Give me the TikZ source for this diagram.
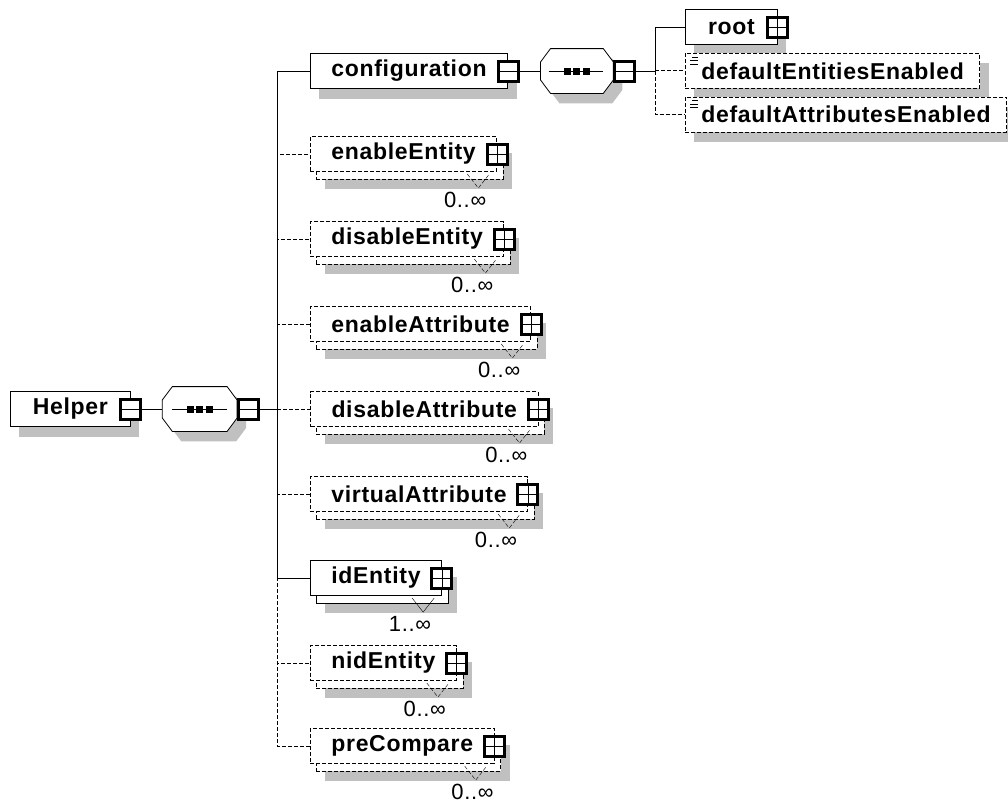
\documentclass[tikz,border=0pt]{standalone}
\usepackage{fontspec}
\setmainfont{Liberation Sans}[LetterSpace=3]
\usetikzlibrary{positioning, calc, fit, shadows, backgrounds}
\definecolor{shadowgray}{HTML}{C0C0C0}

% octagon round an empty node (sequence compositor)
\newcommand{\octagon}[1]{([xshift=10pt]#1.north west) -- ([xshift=-10pt]#1.north east) -- ([yshift=9pt]#1.east) -- ([yshift=-9pt]#1.east) -- ([xshift=-10pt]#1.south east) -- ([xshift=10pt]#1.south west) -- ([yshift=-9pt]#1.west) -- ([yshift=9pt]#1.west) -- cycle}

\begin{document}
\begin{tikzpicture}[x=1pt, y=-1pt, line width=0.8pt,
    el/.style={draw, fill=white, minimum height=35pt, inner xsep=21pt, inner ysep=0pt, font=\bfseries\fontsize{23}{27}\selectfont},
    attr/.style={el, opt, shd, inner xsep=16pt},
    back/.style={draw, fill=white, inner sep=0pt},
    opt/.style={dash pattern=on 4pt off 2pt},
    shd/.style={drop shadow={shadow xshift=9pt, shadow yshift=-10pt, opacity=1, fill=shadowgray}},
    sq/.style={draw, line width=3pt, fill=white, minimum size=20pt, inner sep=0pt},
    plusbox/.style={sq, path picture={\draw[line width=0.8pt] (path picture bounding box.north) -- (path picture bounding box.south) (path picture bounding box.west) -- (path picture bounding box.east);}},
    minusbox/.style={sq, path picture={\draw[line width=0.8pt] (path picture bounding box.west) -- (path picture bounding box.east);}},
    seq/.style={minimum width=#1, minimum height=44pt, inner sep=0pt},
    card/.style={font=\fontsize{22}{26}\selectfont, inner sep=0pt}]
    \useasboundingbox (0,0) rectangle (1008,803);

    % Helper and its sequence
    \node[el, shd, anchor=west, minimum width=120pt] (helper) at (10,409) {Helper};
    \node[minusbox] (hm) at (helper.east) {};
    \node[seq=74pt, right=20pt of hm] (s1) {};
    \draw[fill=white, shd] \octagon{s1};
    \draw ([xshift=10pt]s1.west) -- ([xshift=-10pt]s1.east);
    \foreach \dx in {-9.5,0,9.5}
      \fill ($(s1)+(\dx,0)$) ++(-3.5,-3.5) rectangle ++(7,7);
    \node[minusbox, right=0pt of s1] (sm1) {};
    \coordinate[right=17pt of sm1] (j1);

    % children
    \node[el, shd, anchor=west] (cfg) at (310,71) {configuration};
    \node[el, opt, anchor=west] (ee) at (310,154) {enableEntity};
    \node[el, opt, anchor=west] (de) at (310,239) {disableEntity};
    \node[el, opt, anchor=west] (ea) at (310,324) {enableAttribute};
    \node[el, opt, anchor=west] (da) at ($(j1)+(33,0)$) {disableAttribute};
    \node[el, opt, anchor=west] (va) at (310,494) {virtualAttribute};
    \node[el, anchor=west] (id) at (310,578) {idEntity};
    \node[el, opt, anchor=west] (nid) at (310,663) {nidEntity};
    \node[el, opt, anchor=west] (pre) at (310,746) {preCompare};

    \foreach \n/\c/\s/\dx in {ee/0/opt/-32, de/0/opt/-32, ea/0/opt/-32, da/0/opt/-32, va/0/opt/-32, id/1/solid/-32, nid/0/opt/-32, pre/0/opt/-22}{
      \begin{scope}[on background layer]
        \node[back, shd, \s, fit=(\n), xshift=6pt, yshift=-7pt] (b\n) {};
        \draw[\s] ($(b\n.south east)+(-36,-5)$) -- ++(11,14) -- ++(11,-14);
      \end{scope}
      \node[plusbox] (p\n) at (\n.east) {};
      \node[card] (c\n) at ($(\n.east)+(\dx,46)$) {\c..∞};
    }

    % configuration and its sequence
    \node[minusbox] (cm) at (cfg.east) {};
    \node[seq=72pt, right=21pt of cm] (s2) {};
    \draw[fill=white, shd] \octagon{s2};
    \draw ([xshift=8pt]s2.west) -- ([xshift=-10pt]s2.east);
    \foreach \dx in {-9.5,0,9.5}
      \fill ($(s2)+(\dx,0)$) ++(-3.5,-3.5) rectangle ++(7,7);
    \node[minusbox, right=0pt of s2] (sm2) {};
    \coordinate[right=19pt of sm2] (j2);

    \node[el, shd, anchor=west, minimum width=92pt] (root) at (685,27) {root};
    \node[plusbox] (proot) at (root.east) {};
    \node[attr, below=8pt of root.south west, anchor=north west] (dee) {defaultEntitiesEnabled};
    \node[attr, below=8pt of dee.south west, anchor=north west] (dae) {defaultAttributesEnabled};
    \foreach \a in {dee,dae}{
      \draw[line width=0.6pt] ($(\a.north west)+(7,4)$) -- ++(6,0);
      \draw[line width=0.6pt] ($(\a.north west)+(5,7.5)$) -- ++(8,0);
      \draw[line width=0.6pt] ($(\a.north west)+(5,11)$) -- ++(8,0);
    }

    % connectors
    \draw (hm) -- (s1);
    \draw (sm1) -- (j1);
    \draw (j1) |- (cfg);
    \draw (j1) |- (id);
    \foreach \n in {ee,de,ea,da,va,nid,pre}
      \draw[opt] (j1) |- (\n);
    \draw (cm) -- (s2);
    \draw (sm2) -- (j2);
    \draw (j2) |- (root);
    \draw[opt] (j2) |- (dee);
    \draw[opt] (j2) |- (dae);
  \end{tikzpicture}
\end{document}
